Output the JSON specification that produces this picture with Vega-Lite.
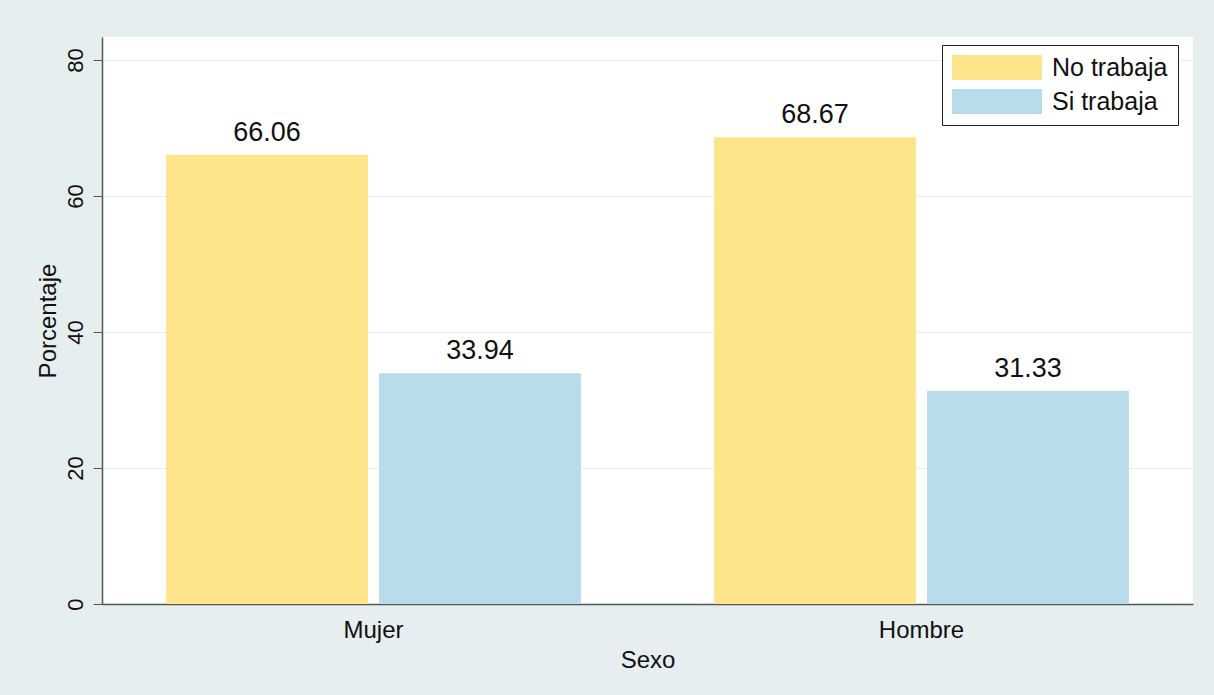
{
  "$schema": "https://vega.github.io/schema/vega-lite/v6.json",
  "autosize": {"type": "none"},
  "padding": {"left": 102, "top": 37, "right": 21, "bottom": 91},
  "width": 1091,
  "height": 567,
  "background": "#e6eef0",
  "config": {
    "font": "Liberation Sans",
    "view": {"fill": "white", "stroke": null},
    "axis": {"labelColor": "#111", "titleColor": "#111", "titleFontWeight": "normal", "domainColor": "#555", "tickColor": "#555", "domainWidth": 1.5}
  },
  "data": {
    "values": [
      {"Sexo": "Mujer", "Estado": "No trabaja", "Porcentaje": 66.06},
      {"Sexo": "Mujer", "Estado": "Si trabaja", "Porcentaje": 33.94},
      {"Sexo": "Hombre", "Estado": "No trabaja", "Porcentaje": 68.67},
      {"Sexo": "Hombre", "Estado": "Si trabaja", "Porcentaje": 31.33}
    ]
  },
  "encoding": {
    "x": {
      "field": "Sexo", "type": "nominal", "sort": ["Mujer", "Hombre"],
      "scale": {"paddingInner": 0.243, "paddingOuter": 0.117},
      "axis": {"title": "Sexo", "titleFontSize": 24, "titlePadding": 6, "labelFontSize": 24, "labelAngle": 0, "ticks": false, "labelPadding": 14, "grid": false}
    },
    "xOffset": {
      "field": "Estado", "type": "nominal", "sort": ["No trabaja", "Si trabaja"],
      "scale": {"paddingInner": 0.052, "paddingOuter": 0}
    },
    "y": {
      "field": "Porcentaje", "type": "quantitative",
      "scale": {"domain": [0, 83.4], "nice": false, "zero": true},
      "axis": {"title": "Porcentaje", "titleFontSize": 24, "values": [0, 20, 40, 60, 80], "labelAngle": -90, "labelFontSize": 22, "tickSize": 9, "labelPadding": 6, "grid": true, "gridColor": "#e8f0f2", "gridWidth": 1.2, "titlePadding": 4}
    }
  },
  "layer": [
    {
      "mark": {"type": "bar"},
      "encoding": {
        "color": {
          "field": "Estado", "type": "nominal",
          "scale": {"domain": ["No trabaja", "Si trabaja"], "range": ["#fee48a", "#b8dcea"]},
          "legend": {
            "title": null, "orient": "none", "legendX": 840, "legendY": 8,
            "strokeColor": "#222", "fillColor": "white", "padding": 10,
            "symbolType": "M-3.6,-1H3.6V1H-3.6Z", "symbolSize": 625, "symbolOffset": 32.5, "symbolStrokeWidth": 0, "symbolOpacity": 1,
            "labelFontSize": 25, "labelOffset": 42.5, "labelColor": "#111", "rowPadding": 8
          }
        }
      }
    },
    {
      "mark": {"type": "text", "baseline": "alphabetic", "dy": -14, "fontSize": 27, "color": "#111"},
      "encoding": {"text": {"field": "Porcentaje", "type": "quantitative", "format": ".2f"}}
    }
  ]
}
